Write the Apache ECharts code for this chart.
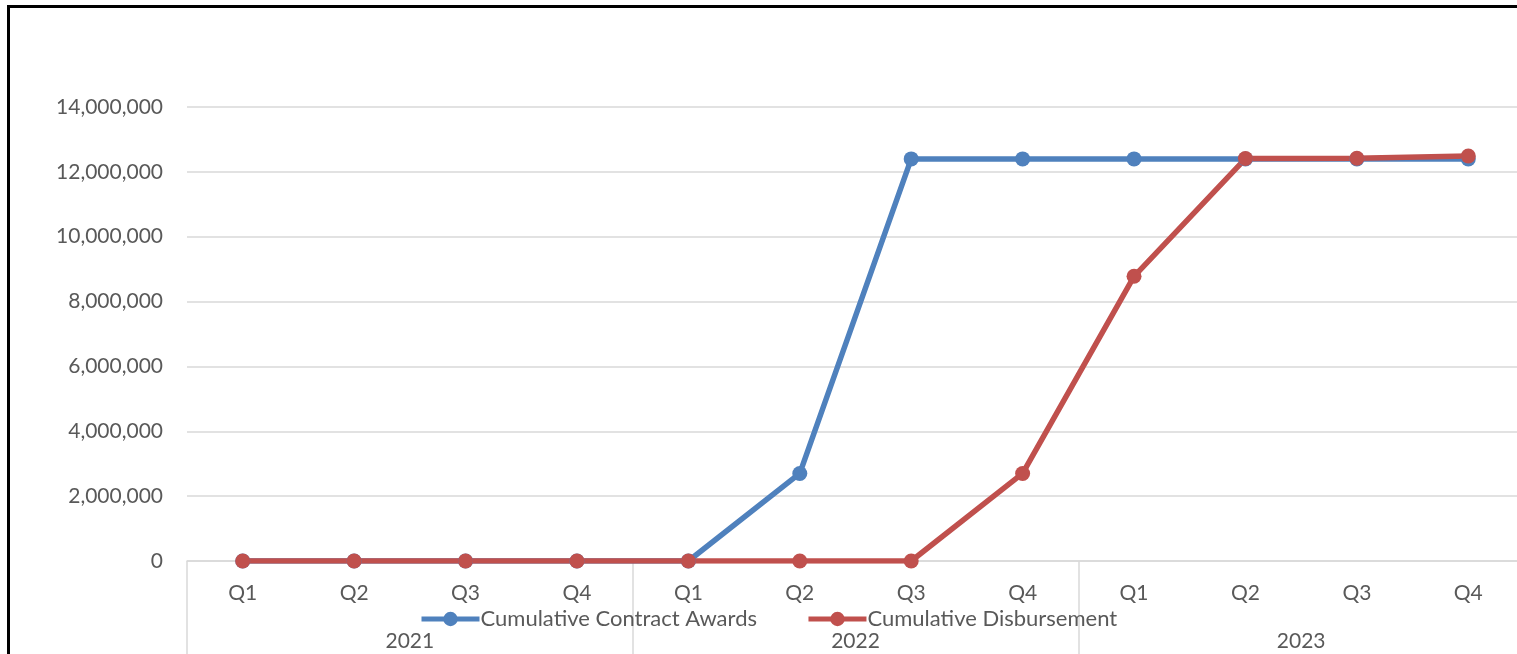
<!DOCTYPE html>
<html>
<head>
<meta charset="utf-8">
<script src="https://cdn.jsdelivr.net/npm/echarts@6/dist/echarts.min.js"></script>
<style>
html,body{margin:0;padding:0;background:#fff;}
#chart{width:1517px;height:654px;}
</style>
</head>
<body>
<div id="chart"></div>
<script>
const quarters = ['Q1','Q2','Q3','Q4','Q1','Q2','Q3','Q4','Q1','Q2','Q3','Q4'];
const years = ['2021','2022','2023'];
const contractAwards = [0,0,0,0,0,2700000,12400000,12400000,12400000,12400000,12400000,12400000];
const disbursement = [0,0,0,0,0,0,0,2700000,8780000,12410000,12420000,12490000];
const yTicks = {min:0, max:14000000, interval:2000000};

const FONT = 'Lato';
const TXT = '#595959';
const GRID = '#D9D9D9';

const chart = echarts.init(document.getElementById('chart'));
chart.setOption({
  animation:false,
  backgroundColor:'#fff',
  textStyle:{fontFamily:FONT},
  graphic:[{
    type:'rect', silent:true, z:100,
    shape:{x:8.5, y:6.5, width:1600, height:800},
    style:{fill:'none', stroke:'#000', lineWidth:3}
  }],
  grid:{left:187, width:1337, top:107, height:454, containLabel:false, outerBoundsMode:'none'},
  legend:{
    top:608, left:419, padding:0,
    itemWidth:58, itemHeight:18, itemGap:49,
    lineStyle:{width:5},
    textStyle:{color:TXT, fontSize:22, fontFamily:FONT, padding:[0,0,0,-4]},
    data:['Cumulative Contract Awards','Cumulative Disbursement']
  },
  xAxis:[{
    type:'category', data:quarters, boundaryGap:true,
    axisLine:{show:true, lineStyle:{color:GRID, width:1.5}},
    axisTick:{show:false},
    axisLabel:{color:TXT, fontSize:21, fontFamily:FONT, margin:22, interval:0}
  },{
    type:'category', data:years, boundaryGap:true, position:'bottom',
    axisLine:{show:false},
    axisTick:{show:true, length:120, alignWithLabel:false, lineStyle:{color:GRID, width:1.5}},
    axisLabel:{color:TXT, fontSize:21, fontFamily:FONT, margin:70, interval:0}
  }],
  yAxis:{
    type:'value', min:yTicks.min, max:yTicks.max, interval:yTicks.interval,
    axisLine:{show:false}, axisTick:{show:false},
    splitLine:{lineStyle:{color:GRID, width:1.5}},
    axisLabel:{color:TXT, fontSize:21, fontFamily:FONT, margin:24,
      formatter:v=>v.toLocaleString('en-US')}
  },
  series:[{
    name:'Cumulative Contract Awards', type:'line', xAxisIndex:0, data:contractAwards,
    symbol:'circle', symbolSize:15, showSymbol:true,
    lineStyle:{color:'#4F81BD', width:5.5}, itemStyle:{color:'#4F81BD'}
  },{
    name:'Cumulative Disbursement', type:'line', xAxisIndex:0, data:disbursement,
    symbol:'circle', symbolSize:15, showSymbol:true,
    lineStyle:{color:'#C0504D', width:5.5}, itemStyle:{color:'#C0504D'}
  }]
});
</script>
</body>
</html>
